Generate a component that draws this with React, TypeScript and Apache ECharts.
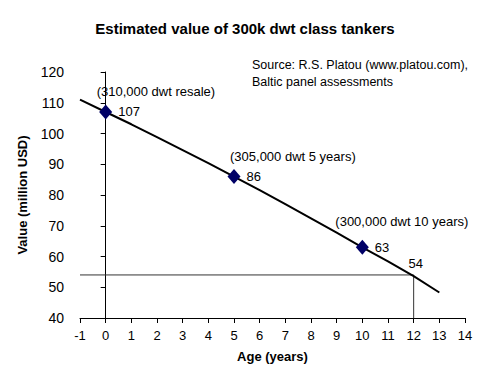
import React, { useEffect, useRef } from "react";
import * as echarts from "echarts";

const title = "Estimated value of 300k dwt class tankers";
const sourceLines = ["Source: R.S. Platou (www.platou.com),", "Baltic panel assessments"];
const pointAges = [0, 5, 10];
const pointValues = [107, 86, 63];
const pointNotes = ["(310,000 dwt resale)", "(305,000 dwt 5 years)", "(300,000 dwt 10 years)"];
const trendAges = [-1, 0, 1, 2, 3, 4, 5, 6, 7, 8, 9, 10, 11, 12, 13];
const trendValues = [111, 107, 103, 98.8, 94.6, 90.4, 86, 81.6, 77, 72.4, 67.8, 63, 58.4, 53.6, 48.3];
const refAge = 12;
const refValue = 54;
const xMin = -1, xMax = 14, yMin = 40, yMax = 120;

export default function App() {
  const ref = useRef<HTMLDivElement>(null);
  useEffect(() => {
    if (!ref.current) return;
    const chart = echarts.init(ref.current, null, { renderer: "svg" });
    const font = "'Liberation Sans', Arial, sans-serif";
    const noteOffsets = [[-9, -20], [-4, -20], [-27, -26]];
    chart.setOption({
      animation: false,
      backgroundColor: "#ffffff",
      textStyle: { fontFamily: font },
      title: {
        text: title,
        left: "center",
        top: 16,
        textStyle: { fontSize: 15, fontWeight: "bold", color: "#000", fontFamily: font },
      },
      graphic: [
        {
          type: "text",
          left: 252,
          top: 57,
          style: { text: sourceLines.join("\n"), font: `12.5px ${font}`, fill: "#000", lineHeight: 16.5 },
        },
      ],
      grid: { left: 80, right: 25, top: 72, bottom: 69, containLabel: false },
      xAxis: {
        type: "value",
        min: xMin,
        max: xMax,
        interval: 1,
        name: "Age (years)",
        nameLocation: "middle",
        nameGap: 32,
        nameTextStyle: { fontWeight: "bold", fontSize: 13, color: "#000" },
        axisLine: { show: true, onZero: false, lineStyle: { color: "#000", width: 1 } },
        axisTick: { show: true, length: 5, lineStyle: { color: "#000" } },
        axisLabel: { fontSize: 13, color: "#000", margin: 11 },
        splitLine: { show: false },
      },
      yAxis: {
        type: "value",
        min: yMin,
        max: yMax,
        interval: 10,
        name: "Value (million USD)",
        nameLocation: "middle",
        nameGap: 51,
        nameTextStyle: { fontWeight: "bold", fontSize: 13, color: "#000" },
        axisLine: { show: true, lineStyle: { color: "#000", width: 1 } },
        axisTick: { show: true, length: 5, lineStyle: { color: "#000" } },
        axisLabel: { fontSize: 14, color: "#000", margin: 16 },
        splitLine: { show: false },
      },
      series: [
        {
          type: "line",
          data: [[xMin, refValue], [refAge, refValue], [refAge, yMin]],
          symbol: "none",
          lineStyle: { color: "#333", width: 1 },
          silent: true,
          z: 1,
          markPoint: {
            symbol: "circle",
            symbolSize: 0,
            data: [{ coord: [refAge, refValue], value: String(refValue) }],
            label: { show: true, formatter: String(refValue), position: "top", offset: [2, 0], color: "#000", textBorderWidth: 0, fontSize: 13 },
          },
        },
        {
          type: "line",
          data: trendAges.map((a, i) => [a, trendValues[i]]),
          symbol: "none",
          lineStyle: { color: "#000", width: 2 },
          z: 2,
        },
        {
          type: "scatter",
          data: pointAges.map((a, i) => [a, pointValues[i]]),
          symbol: "diamond",
          symbolSize: [13, 15],
          itemStyle: { color: "#000066", opacity: 1 },
          label: {
            show: true,
            position: "right",
            distance: 6,
            formatter: (p: any) => String(p.value[1]),
            color: "#000",
            textBorderWidth: 0,
            opacity: 1,
            fontSize: 13,
          },
          z: 3,
        },
        {
          type: "scatter",
          data: pointAges.map((a, i) => ({
            value: [a, pointValues[i]],
            label: { position: noteOffsets[i] },
          })),
          symbolSize: 0,
          itemStyle: { color: "#000", opacity: 1 },
          label: {
            show: true,
            align: "left",
            verticalAlign: "middle",
            formatter: (p: any) => pointNotes[p.dataIndex],
            color: "#000",
            textBorderWidth: 0,
            fontSize: 13,
          },
          z: 4,
        },
      ],
    });
    return () => chart.dispose();
  }, []);
  return <div ref={ref} style={{ width: 490, height: 387, margin: -8 }} />;
}
